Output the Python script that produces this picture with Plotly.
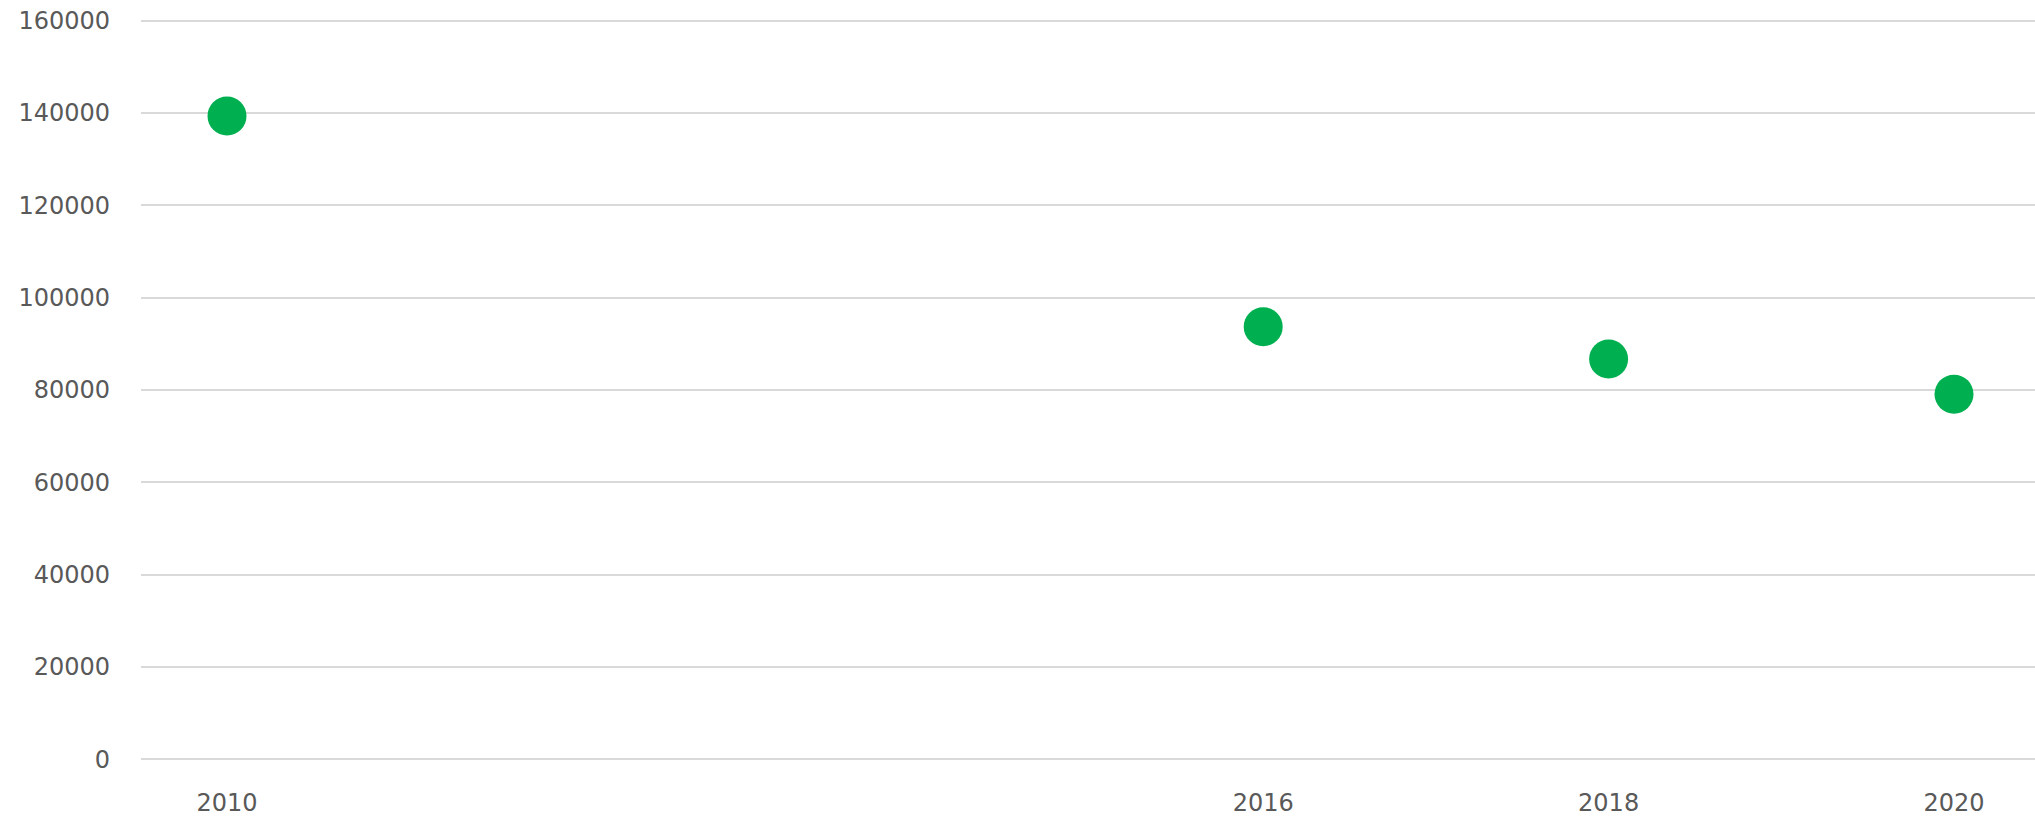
import plotly.graph_objects as go

# Values
years = [2010, 2016, 2018, 2020]
values = [139350, 93700, 86700, 79100]
y_ticks = [0, 20000, 40000, 60000, 80000, 100000, 120000, 140000, 160000]

fig = go.Figure()

fig.add_trace(go.Scatter(
    x=years,
    y=values,
    mode="markers",
    marker=dict(size=39, color="#00b050", line=dict(width=0)),
    showlegend=False,
))

fig.update_layout(
    width=2035,
    height=816,
    paper_bgcolor="white",
    plot_bgcolor="white",
    font=dict(family="DejaVu Sans", size=24, color="#595959"),
    margin=dict(l=141, r=0, t=18, b=54),
    xaxis=dict(
        range=[2009.502, 2020.469],
        tickvals=years,
        ticktext=[str(y) for y in years],
        showgrid=False,
        zeroline=False,
        showline=False,
        ticks="",
        ticklabelstandoff=24,
        automargin=False,
    ),
    yaxis=dict(
        # padded slightly so the 0 and 160000 grid lines are drawn
        range=[-600, 160600],
        tickvals=y_ticks,
        ticktext=[str(v) for v in y_ticks],
        showgrid=True,
        gridcolor="#d9d9d9",
        gridwidth=1.5,
        zeroline=False,
        showline=False,
        ticks="",
        ticklabelstandoff=30,
        automargin=False,
    ),
)

# drop the default 8px body margin so the figure fills the window exactly
fig.write_html(
    "out.html",
    config={"displayModeBar": False},
    post_script="document.body.style.margin='0';document.body.style.overflow='hidden';",
)
